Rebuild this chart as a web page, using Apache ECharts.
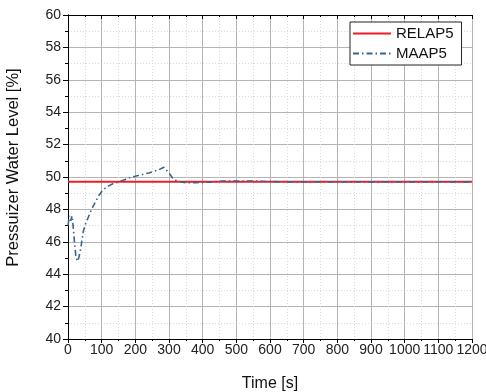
<!DOCTYPE html>
<html>
<head>
<meta charset="utf-8">
<script src="https://cdn.jsdelivr.net/npm/echarts@6/dist/echarts.min.js"></script>
<style>
  html, body { margin: 0; padding: 0; background: #fff; }
  #chart { width: 486px; height: 392px; }
</style>
</head>
<body>
<div id="chart"></div>
<script>
// RELAP5: flat level
const relapTime = [0, 1200];
const relapLevel = [49.7, 49.7];

// MAAP5: early dip, overshoot near 285 s, then settles
const maapTime = [0, 4, 8, 12, 16, 20, 24, 28, 32, 38, 45, 52, 60, 70, 80, 90, 100, 110, 125, 135,
  150, 170, 185, 200, 220, 240, 255, 270, 285, 290, 300, 310, 320, 335, 350, 380, 420, 460, 500,
  550, 600, 650, 700, 800, 900, 1000, 1100, 1200];
const maapLevel = [47.0, 47.6, 47.3, 47.6, 46.8, 45.8, 45.0, 44.8, 45.0, 45.6, 46.6, 47.1, 47.5, 48.0, 48.4, 48.8, 49.1, 49.3, 49.5, 49.6,
  49.7, 49.85, 49.98, 50.05, 50.15, 50.25, 50.35, 50.45, 50.6, 50.55, 50.25, 49.95, 49.8, 49.7, 49.65, 49.65, 49.68, 49.75, 49.75,
  49.75, 49.72, 49.7, 49.7, 49.7, 49.7, 49.7, 49.7, 49.7];

const font = "'Liberation Sans', Arial, sans-serif";
const pair = (xs, ys) => xs.map((x, i) => [x, ys[i]]);

const frame = { lineStyle: { color: '#000', width: 1 } };
const major = { show: true, lineStyle: { color: '#b4b4b4', width: 1 } };
const minor = { show: true, lineStyle: { color: '#dadada', width: 1, type: [1, 2] } };

const myChart = echarts.init(document.getElementById('chart'));
myChart.setOption({
  animation: false,
  textStyle: { fontFamily: font },
  grid: { left: 68, right: 14, top: 15, bottom: 53, containLabel: false, outerBoundsMode: 'none' },
  legend: {
    orient: 'vertical',
    left: 350,
    top: 22,
    padding: [4, 8, 4, 2],
    itemWidth: 38,
    itemHeight: 14,
    itemGap: 5,
    backgroundColor: '#fff',
    borderColor: '#222',
    borderWidth: 1,
    itemStyle: { opacity: 0 },
    textStyle: { color: '#111', fontSize: 15, fontFamily: font },
    data: ['RELAP5', 'MAAP5']
  },
  xAxis: [
    {
      type: 'value', position: 'bottom', min: 0, max: 1200, interval: 100,
      name: 'Time [s]', nameLocation: 'middle', nameGap: 37,
      nameTextStyle: { fontSize: 16, color: '#111', fontFamily: font },
      axisLine: { show: true, ...frame },
      axisTick: { show: true, length: 4, lineStyle: { color: '#000' } },
      minorTick: { show: true, splitNumber: 2, length: 2, lineStyle: { color: '#000' } },
      splitLine: major,
      minorSplitLine: minor,
      axisLabel: {
        color: '#222', fontSize: 14, margin: 4, fontFamily: font,
        showMinLabel: true, showMaxLabel: true, hideOverlap: false,
        formatter: v => String(v)
      }
    },
    {
      type: 'value', position: 'top', min: 0, max: 1200, interval: 100,
      axisLine: { show: true, ...frame },
      axisTick: { show: true, inside: true, length: 4, lineStyle: { color: '#000' } },
      minorTick: { show: true, splitNumber: 2, length: 2, lineStyle: { color: '#000' } },
      splitLine: { show: false },
      axisLabel: { show: false }
    }
  ],
  yAxis: [
    {
      type: 'value', position: 'left', min: 40, max: 60, interval: 2,
      name: 'Pressuizer Water Level [%]', nameLocation: 'middle', nameGap: 46,
      nameTextStyle: { fontSize: 16.5, color: '#111', fontFamily: font, padding: [0, 0, 0, 19] },
      axisLine: { show: true, ...frame },
      axisTick: { show: true, length: 5, lineStyle: { color: '#000' } },
      minorTick: { show: true, splitNumber: 2, length: 3, lineStyle: { color: '#000' } },
      splitLine: major,
      minorSplitLine: minor,
      axisLabel: { color: '#222', fontSize: 14, margin: 7, fontFamily: font }
    },
    {
      type: 'value', position: 'right', min: 40, max: 60, interval: 2,
      axisLine: { show: true, ...frame },
      axisTick: { show: true, inside: true, length: 4, lineStyle: { color: '#000' } },
      minorTick: { show: true, splitNumber: 2, length: 2, lineStyle: { color: '#000' } },
      splitLine: { show: false },
      axisLabel: { show: false }
    }
  ],
  series: [
    {
      name: 'RELAP5',
      type: 'line',
      symbol: 'none',
      color: '#ee1c24',
      lineStyle: { color: '#ee1c24', width: 2 },
      data: pair(relapTime, relapLevel),
      z: 3
    },
    {
      name: 'MAAP5',
      type: 'line',
      symbol: 'none',
      color: '#3c6488',
      lineStyle: { color: '#3c6488', width: 1.6, type: [6, 3, 1.5, 3] },
      data: pair(maapTime, maapLevel),
      z: 4
    }
  ]
});
</script>
</body>
</html>
